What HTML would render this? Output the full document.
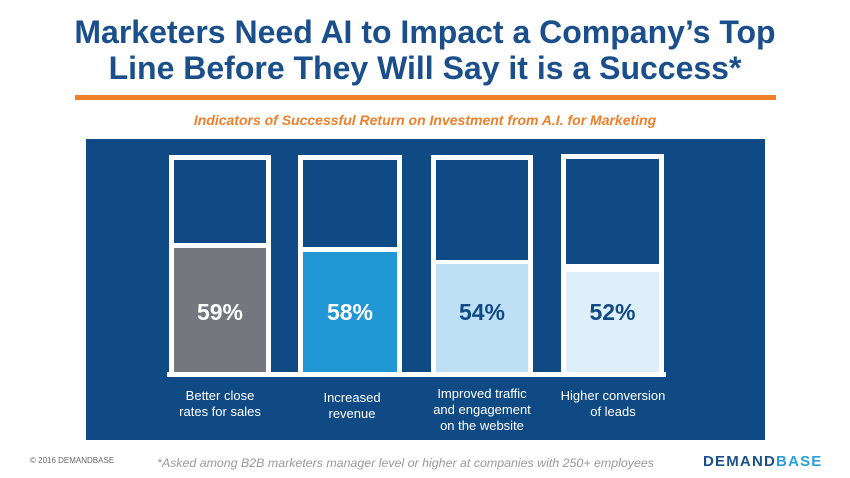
<!DOCTYPE html>
<html><head><style>
*{margin:0;padding:0;box-sizing:border-box}
body{width:850px;height:478px;background:#fff;position:relative;overflow:hidden;font-family:"Liberation Sans",Arial,sans-serif}
.a{position:absolute}
.title{left:0;width:850px;text-align:center;color:#1a4f8c;font-weight:bold;font-size:32px;line-height:36px;top:14px}
.bar{position:absolute;border:5px solid #fff;border-bottom:none;background:#0f4a85}
.div{position:absolute;left:0;right:0;background:#fff}
.fill{position:absolute;left:0;right:0;bottom:0}
.pct{position:absolute;left:0;right:0;top:138px;text-align:center;font-size:23px;font-weight:bold;line-height:28px}
.lab{position:absolute;color:#fff;font-size:13px;line-height:16px;text-align:center;width:140px}
</style></head><body>
<div class="a title">Marketers Need AI to Impact a Company’s Top<br>Line Before They Will Say it is a Success*</div>
<div class="a" style="left:75px;top:95px;width:701px;height:5px;background:#f07f2a"></div>
<div class="a" style="left:0;width:850px;top:112px;text-align:center;color:#f07f2a;font-size:14px;font-weight:bold;font-style:italic">Indicators of Successful Return on Investment from A.I. for Marketing</div>
<div class="a" style="left:86px;top:139px;width:679px;height:301px;background:#0f4a85"></div>

<div class="bar" style="left:169px;top:155px;width:102px;height:220px">
 <div class="div" style="top:83px;height:5px"></div>
 <div class="fill" style="top:88px;background:#76777e"></div><div class="pct" style="color:#fff">59%</div></div>
<div class="bar" style="left:298px;top:155px;width:104px;height:220px">
 <div class="div" style="top:87px;height:5px"></div>
 <div class="fill" style="top:92px;background:#2197d6"></div><div class="pct" style="color:#fff">58%</div></div>
<div class="bar" style="left:431px;top:155px;width:102px;height:220px">
 <div class="div" style="top:100px;height:5px"></div>
 <div class="fill" style="top:104px;background:#bde0f4"></div><div class="pct" style="color:#0f4a85">54%</div></div>
<div class="bar" style="left:561px;top:154px;width:103px;height:221px">
 <div class="div" style="top:105px;height:8px"></div>
 <div class="fill" style="top:113px;background:#deeff9"></div><div class="pct" style="color:#0f4a85;top:139px">52%</div></div>
<div class="a" style="left:167px;top:372px;width:499px;height:5px;background:#fff"></div>

<div class="lab" style="left:150px;top:388px">Better close<br>rates for sales</div>
<div class="lab" style="left:282px;top:390px">Increased<br>revenue</div>
<div class="lab" style="left:412px;top:386px">Improved traffic<br>and engagement<br>on the website</div>
<div class="lab" style="left:543px;top:388px">Higher conversion<br>of leads</div>

<div class="a" style="left:30px;top:456px;font-size:8px;color:#666">© 2016 DEMANDBASE</div>
<div class="a" style="left:157px;top:456px;font-size:12.4px;font-style:italic;color:#999">*Asked among B2B marketers manager level or higher at companies with 250+ employees</div>
<div class="a" style="left:703px;top:453px;font-size:15px;font-weight:bold;letter-spacing:1.2px;color:#1a4f8c">DEMAND<span style="color:#2a9fd8">BASE</span></div>
</body></html>
